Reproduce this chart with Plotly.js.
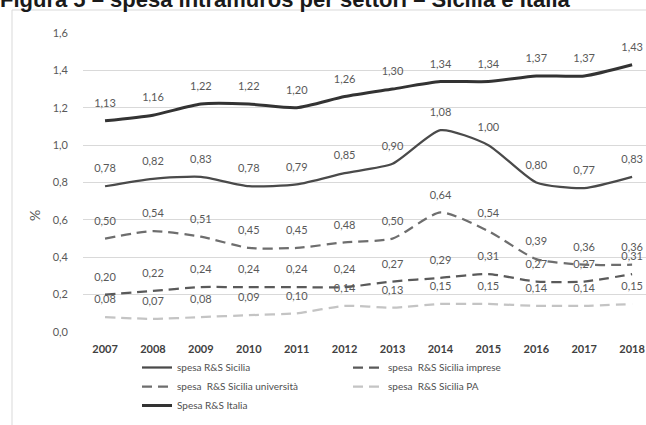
<!DOCTYPE html>
<html>
<head>
<meta charset="utf-8">
<script src="https://cdn.plot.ly/plotly-3.0.1.min.js"></script>
<style>html,body{margin:0;padding:0;background:#fff;}#chart{width:646px;height:425px;}</style>
</head>
<body>
<div id="chart"></div>
<script>
const years = ['2007','2008','2009','2010','2011','2012','2013','2014','2015','2016','2017','2018'];
const sicilia = [0.78,0.82,0.83,0.78,0.79,0.85,0.90,1.08,1.00,0.80,0.77,0.83];
const siciliaImprese = [0.20,0.22,0.24,0.24,0.24,0.24,0.27,0.29,0.31,0.27,0.27,0.31];
const siciliaUniversita = [0.50,0.54,0.51,0.45,0.45,0.48,0.50,0.64,0.54,0.39,0.36,0.36];
const siciliaPA = [0.08,0.07,0.08,0.09,0.10,0.14,0.13,0.15,0.15,0.14,0.14,0.15];
const italia = [1.13,1.16,1.22,1.22,1.20,1.26,1.30,1.34,1.34,1.37,1.37,1.43];
const seriesNames = ['spesa R&S Sicilia','spesa  R&S Sicilia imprese','spesa  R&S Sicilia università','spesa  R&S Sicilia PA','Spesa R&S Italia'];
const yTicks = [0,0.2,0.4,0.6,0.8,1.0,1.2,1.4,1.6];

const FONT = 'Lato, "Liberation Sans", sans-serif';
const labelFont = {family: FONT, size: 11, color: '#595959'};

function tr(y, name, color, width, dash) {
  return {
    x: years, y: y, name: name, type: 'scatter', mode: 'lines+markers+text',
    line: {color: color, width: width, dash: dash, shape: 'spline', smoothing: 0.6},
    marker: {size: 16, color: 'rgba(0,0,0,0)'},
    texttemplate: '%{y:.2f}', textposition: 'top center', textfont: labelFont,
    hoverinfo: 'skip', cliponaxis: false
  };
}

const data = [
  tr(sicilia, seriesNames[0], '#4a4a4a', 2.25, 'solid'),
  tr(siciliaImprese, seriesNames[1], '#5a5a5a', 2.25, '10px,6px'),
  tr(siciliaUniversita, seriesNames[2], '#6e6e6e', 2.25, '10px,6px'),
  tr(siciliaPA, seriesNames[3], '#c4c4c4', 2.25, '10px,6px'),
  tr(italia, seriesNames[4], '#333333', 3, 'solid')
];

const L = 83, T = 33, W = 563, H = 299;
const px = v => (v - L) / W;
const py = v => (T + H - v) / H;

const layout = {
  width: 646, height: 425,
  margin: {l: L, r: 0, t: T, b: 425 - T - H, pad: 0},
  paper_bgcolor: '#ffffff', plot_bgcolor: '#ffffff',
  separators: ',.',
  font: {family: FONT, color: '#595959'},
  showlegend: true,
  xaxis: {
    type: 'category', range: [-0.46, 11.29], showgrid: false, zeroline: false,
    showline: false, ticks: '', ticklabelstandoff: 9,
    tickfont: {family: FONT, size: 11, color: '#404040', weight: 'bold'},
    fixedrange: true
  },
  yaxis: {
    range: [0, 1.6], tickvals: yTicks, tickformat: '.1f', showgrid: true, gridcolor: '#d9d9d9',
    gridwidth: 1, zeroline: false, showline: false, ticks: '', ticklabelstandoff: 14,
    tickfont: {family: FONT, size: 11, color: '#595959'}, fixedrange: true
  },
  legend: {
    orientation: 'h', x: px(137), xanchor: 'left', y: py(353), yanchor: 'top',
    font: {family: FONT, size: 10, color: '#4f4f4f'}, entrywidth: 166, entrywidthmode: 'pixels',
    itemwidth: 30, tracegroupgap: 0, bgcolor: 'rgba(0,0,0,0)', traceorder: 'normal'
  },
  shapes: [
    {type: 'line', xref: 'paper', yref: 'paper', x0: px(12), x1: px(646), y0: py(10), y1: py(10), line: {color: '#d9d9d9', width: 1}},
    {type: 'line', xref: 'paper', yref: 'paper', x0: px(12), x1: px(12), y0: py(10), y1: py(425), line: {color: '#d9d9d9', width: 1}}
  ],
  annotations: [
    {text: '<b>Figura 5 – spesa intramuros per settori – Sicilia e Italia</b>', xref: 'paper', yref: 'paper',
     x: px(-2), y: py(14), xanchor: 'left', yanchor: 'bottom', showarrow: false,
     font: {family: '"Liberation Sans", Arial, sans-serif', size: 22, color: '#1a1a1a'}},
    {text: '%', xref: 'paper', yref: 'paper', x: px(34), y: py(216), xanchor: 'center', yanchor: 'middle',
     showarrow: false, textangle: -90, font: {family: FONT, size: 14, color: '#595959'}}
  ]
};

Plotly.newPlot('chart', data, layout, {displayModeBar: false, staticPlot: true});
</script>
</body>
</html>
